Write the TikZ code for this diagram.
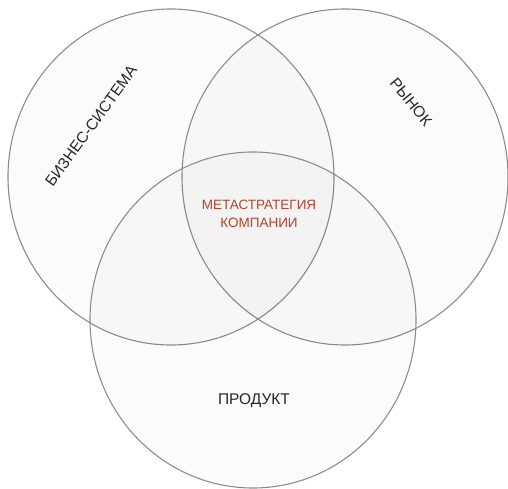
\documentclass[tikz,border=0pt]{standalone}
\usepackage{fontspec}
\setmainfont{Liberation Sans}
\usetikzlibrary{shapes.geometric}
\definecolor{ringgray}{HTML}{8C8C8C}
\definecolor{metared}{HTML}{B8412F}
\tikzset{ring/.style  = {ellipse, draw=ringgray, line width=1.1pt, fill=black, fill opacity=0.015,
		minimum width=326pt, minimum height=336pt, inner sep=0pt},
	label/.style  = {text=black!85, font=\fontsize{15.5}{17}\selectfont, inner sep=0pt},
	meta/.style   = {text=metared, font=\fontsize{13.5}{18}\selectfont, align=center, inner sep=0pt}
}

\begin{document}
\begin{tikzpicture}[x=1pt, y=1pt]
	\useasboundingbox (0,0) rectangle (508,-489);
	\node [ring] (biz) at (171,-177) {};
	\node [ring] (market) at (345,-177) {};
	\node [ring] (product) at (253,-320) {};
	%% texts of the three circles
	\node [label, rotate=54] (bizlabel) at (91,-126) {БИЗНЕС-СИСТЕМА};
	\node [label, rotate=-51] (marketlabel) at (411,-102) {РЫНОК};
	\node [label] (productlabel) at (254,-401) {ПРОДУКТ};
	%% common part in the middle
	\node [meta] (metalabel) at (259,-214) {МЕТАСТРАТЕГИЯ\\КОМПАНИИ};
\end{tikzpicture}
\end{document}
